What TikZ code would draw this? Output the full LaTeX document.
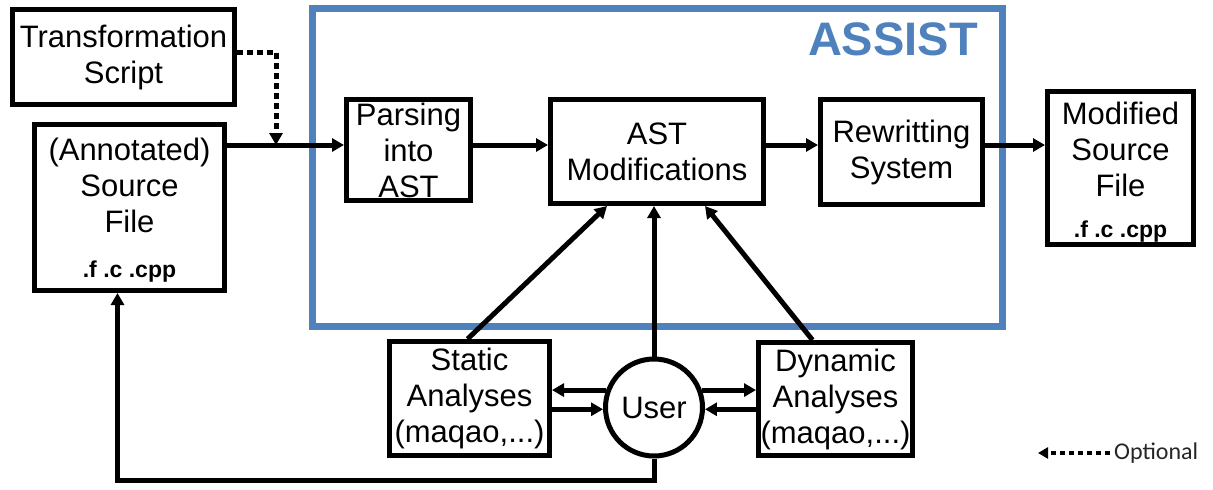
\documentclass[tikz,border=0pt]{standalone}
\usepackage{xcolor}
\usepackage{fontspec}
\setmainfont{Liberation Sans}
\newfontfamily\legendfont{Carlito}
\usepackage{tikz}
\usetikzlibrary{arrows.meta}
\definecolor{assistblue}{RGB}{79,129,189}

\begin{document}
\begin{tikzpicture}[x=1pt, y=-1pt,
  every node/.style={font=\fontsize{31}{36}\selectfont, align=center, inner sep=0pt},
  box/.style={draw, line width=5pt, rectangle},
  ext/.style={font=\fontsize{23}{26}\selectfont\bfseries},
  arr/.style={line width=5pt, -{Triangle[length=12pt, width=13pt]}},
  opt/.style={arr, dash pattern=on 6pt off 4pt}]
  \useasboundingbox (0,0) rectangle (1213,490);
  \node[draw=assistblue, line width=7pt, minimum width=690, minimum height=318] (assist) at (657,167) {};
  \node[anchor=base east, text=assistblue, font=\fontsize{47}{50}\selectfont\bfseries] (assisttitle) at (978,55) {ASSIST};

  \node[box, minimum width=222, minimum height=95] (script) at (123.5,57) {Transformation\\Script};
  \node[box, minimum width=190, minimum height=166] (src) at (129.5,207.5) {};
  \node (srctxt) at (129.5,185) {(Annotated)\\Source\\File};
  \node[ext] (srcext) at (129.5,272) {.f .c .cpp};
  \node[box, minimum width=124, minimum height=101] (parse) at (408.5,150) {Parsing\\into\\AST};
  \node[box, minimum width=213, minimum height=104] (ast) at (657,151.5) {AST\\Modifications};
  \node[box, minimum width=162, minimum height=105] (rew) at (901.5,152) {Rewritting\\System};
  \node[box, minimum width=146, minimum height=153] (mod) at (1120.5,168) {};
  \node (modtxt) at (1120.5,149) {Modified\\Source\\File};
  \node[ext] (modext) at (1120.5,232) {.f .c .cpp};
  \node[box, minimum width=160, minimum height=114] (static) at (469.5,398.5) {Static\\Analyses\\(maqao,...)};
  \node[box, circle, minimum size=97] (user) at (654,407.5) {User};
  \node[box, minimum width=154, minimum height=113] (dyn) at (835.5,399) {Dynamic\\Analyses\\(maqao,...)};

  \coordinate (main) at (0,145);
  \coordinate (join) at (276,145);
  \coordinate (back) at (0,480);
  \coordinate (leg) at (1038,453);
  \node[anchor=west, font=\legendfont\fontsize{24}{26}\selectfont, text=black!85] (optional) at (1114,453) {Optional};

  \draw[opt] (script.east |- 0,52) -| (join);
  \draw[arr] (src.east |- main) -- (parse.west |- main);
  \draw[arr] (parse.east |- main) -- (ast.west |- main);
  \draw[arr] (ast.east |- main) -- (rew.west |- main);
  \draw[arr] (rew.east |- main) -- (mod.west |- main);
  \draw[arr] ([xshift=-2pt]static.north) -- ([xshift=-50pt]ast.south);
  \draw[arr] (user.north) -- (user.north |- ast.south);
  \draw[arr] ([xshift=-23pt]dyn.north) -- ([xshift=48pt]ast.south);
  \draw[arr] (user.160) -- (static.east |- user.160);
  \draw[arr] (static.east |- user.182) -- (user.182);
  \draw[arr] (user.20) -- (dyn.west |- user.20);
  \draw[arr] (dyn.west |- user.-2) -- (user.-2);
  \draw[arr] (user.south) |- ([xshift=-12pt]src.south |- back) -- ([xshift=-12pt]src.south);
  \draw[opt, line width=4pt, dash pattern=on 5pt off 4pt, -{Triangle[length=10pt, width=11pt]}] ([xshift=-4pt]optional.west) -- (leg);
\end{tikzpicture}
\end{document}
